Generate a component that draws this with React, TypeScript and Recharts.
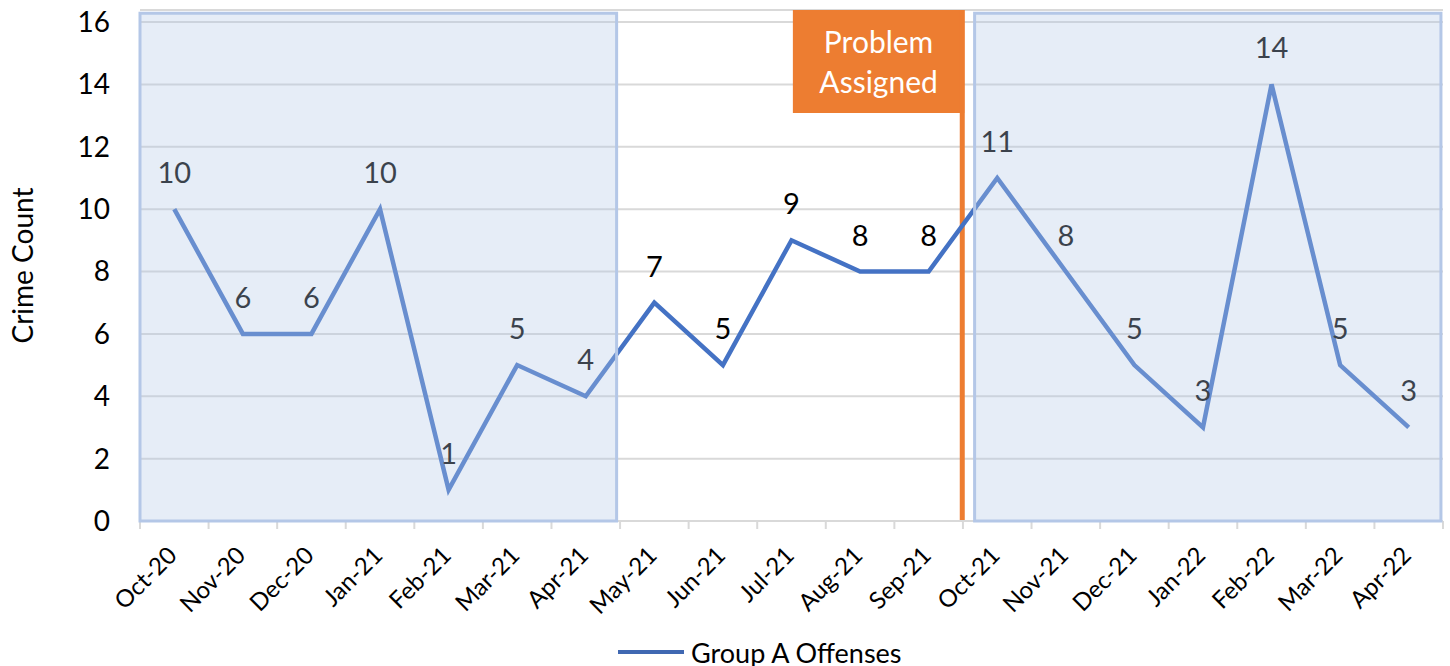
import { LineChart, Line, XAxis, YAxis, CartesianGrid, ReferenceArea, ReferenceLine, LabelList, Legend } from 'recharts'

const months = [
  'Oct-20', 'Nov-20', 'Dec-20', 'Jan-21', 'Feb-21', 'Mar-21', 'Apr-21', 'May-21', 'Jun-21', 'Jul-21',
  'Aug-21', 'Sep-21', 'Oct-21', 'Nov-21', 'Dec-21', 'Jan-22', 'Feb-22', 'Mar-22', 'Apr-22',
]
const offenses = [10, 6, 6, 10, 1, 5, 4, 7, 5, 9, 8, 8, 11, 8, 5, 3, 14, 5, 3]
const yTicks = [0, 2, 4, 6, 8, 10, 12, 14, 16]

const data = months.map((month, i) => ({ i, month, offenses: offenses[i] }))

const FONT = 'Lato, "Open Sans", sans-serif'
const W = 1450
const H = 666
const PLOT_LEFT = 140
const PLOT_RIGHT = 7
const HALF = (W - PLOT_LEFT - PLOT_RIGHT) / months.length / 2

function MonthTick(props: any) {
  const { x, y, payload } = props
  const ax = x + 4
  const ay = y + 36
  return (
    <g>
      <line x1={x - HALF} x2={x - HALF} y1={y} y2={y + 8} stroke="#D9D9D9" strokeWidth={2} />
      {payload.value === months.length - 1 && (
        <line x1={x + HALF} x2={x + HALF} y1={y} y2={y + 8} stroke="#D9D9D9" strokeWidth={2} />
      )}
      <text x={ax} y={ay} textAnchor="end" fontSize={24} fontFamily={FONT} fill="#000" transform={`rotate(-45 ${ax} ${ay})`}>
        {months[payload.value]}
      </text>
    </g>
  )
}

function FlagLabel(props: any) {
  const { viewBox } = props
  const cx = viewBox.x + viewBox.width / 2
  return (
    <g>
      <text x={cx} y={viewBox.y + 43} textAnchor="middle" fontSize={30} fontFamily={FONT} fill="#fff">Problem</text>
      <text x={cx} y={viewBox.y + 83} textAnchor="middle" fontSize={30} fontFamily={FONT} fill="#fff">Assigned</text>
    </g>
  )
}

function LegendContent() {
  return (
    <div style={{ height: 40, display: 'flex', justifyContent: 'flex-start', alignItems: 'center', paddingTop: 12, paddingLeft: 618, boxSizing: 'border-box' }}>
      <svg width={66} height={6} style={{ marginRight: 7 }}>
        <line x1={0} x2={66} y1={3} y2={3} stroke="#4068B2" strokeWidth={4} />
      </svg>
      <span style={{ fontFamily: FONT, fontSize: 27, color: '#000' }}>Group A Offenses</span>
    </div>
  )
}

export default function App() {
  return (
    <div style={{ position: 'absolute', left: 0, top: 0, width: W, height: H, background: '#fff' }}>
      <LineChart width={W} height={H} data={data} margin={{ top: 10, right: PLOT_RIGHT, bottom: 0, left: 0 }}>
        <CartesianGrid stroke="#D9D9D9" strokeWidth={2} vertical={false} />
        <XAxis
          type="number"
          dataKey="i"
          domain={[-0.5, months.length - 0.5]}
          ticks={months.map((_, i) => i)}
          interval={0}
          height={105}
          tickLine={false}
          tickSize={0}
          tickMargin={0}
          axisLine={{ stroke: '#D9D9D9', strokeWidth: 2 }}
          tick={<MonthTick />}
        />
        <YAxis
          type="number"
          domain={[0, 16.385]}
          ticks={yTicks}
          width={PLOT_LEFT}
          axisLine={false}
          tickLine={false}
          tickSize={0}
          tickMargin={30}
          tick={{ fontSize: 28, fontFamily: FONT, fill: '#000' }}
          label={{
            content: (p: any) => {
              const vb = p.viewBox
              const cx = 22
              const cy = vb.y + vb.height / 2
              return (
                <text x={cx} y={cy} textAnchor="middle" dominantBaseline="central" fontSize={28} fontFamily={FONT} fill="#000" transform={`rotate(-90 ${cx} ${cy})`}>
                  Crime Count
                </text>
              )
            },
          }}
        />
        <Legend verticalAlign="bottom" height={40} content={<LegendContent />} />
        <ReferenceLine x={11.49} stroke="#ED7D31" strokeWidth={5} ifOverflow="extendDomain" />
        <ReferenceArea x1={9.02} x2={11.52} y1={13.08} y2={16.385} fill="#ED7D31" fillOpacity={1} stroke="none" label={<FlagLabel />} />
        <Line
          type="linear"
          dataKey="offenses"
          stroke="#4472C4"
          strokeWidth={4.5}
          dot={false}
          activeDot={false}
          isAnimationActive={false}
          legendType="line"
          name="Group A Offenses"
        >
          <LabelList dataKey="offenses" position="top" offset={26} fontSize={29} fontFamily={FONT} fill="#000" />
        </Line>
        <ReferenceArea x1={-0.5} x2={6.45} y1={0} y2={16.28} fill="#B4C7E7" fillOpacity={0.33} stroke="#B4C7E7" strokeWidth={3} zIndex={2500} />
        <ReferenceArea x1={11.67} x2={18.47} y1={0} y2={16.28} fill="#B4C7E7" fillOpacity={0.33} stroke="#B4C7E7" strokeWidth={3} zIndex={2500} />
      </LineChart>
    </div>
  )
}
